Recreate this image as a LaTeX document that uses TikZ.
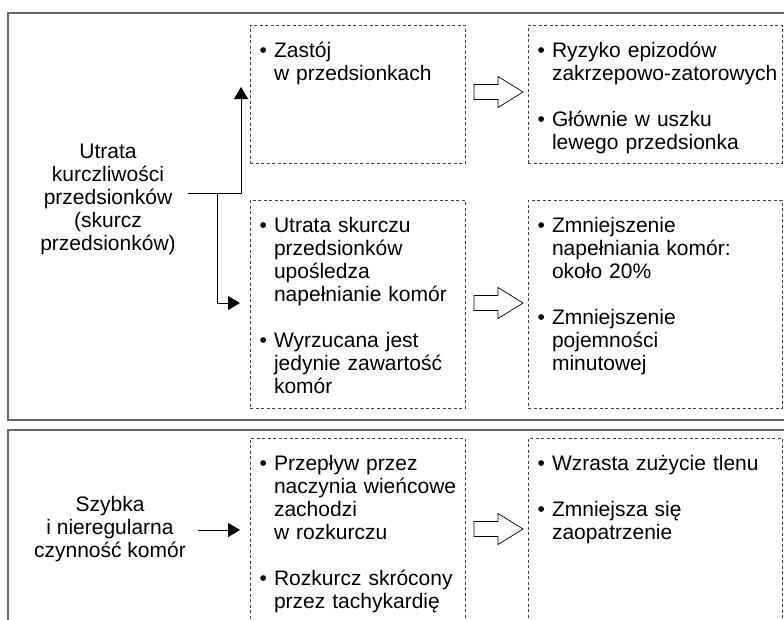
\documentclass[tikz,border=0pt]{standalone}
\usepackage{fontspec}
\setmainfont{Liberation Sans}
\usetikzlibrary{arrows.meta}
\newcommand{\pkt}{\textbullet\ }
\newcommand{\wc}{\phantom{\textbullet\ }}
\begin{document}
\begin{tikzpicture}
  [x=1pt,y=-1pt,every node/.style={font=\fontsize{21}{23}\selectfont,inner sep=0pt}]
  \tikzstyle{ramka} = [draw=black!75,line width=0.8pt,dash pattern=on 3pt off 2.5pt,anchor=north west]
  \tikzstyle{punkty} = [anchor=base west,align=left,text width=250pt]
  \tikzstyle{opis} = [align=center,inner xsep=12pt]
  \tikzstyle{obwod} = [draw=black!60,line width=1.5pt]
  \tikzstyle{strzalka} = [draw=black,line width=0.7pt,fill=white]
  \tikzstyle{polacz} = [-{Triangle[length=12pt,width=14pt]},line width=0.8pt]
  \clip (0,0) rectangle (784,619);
  \draw[obwod] (8,13) rectangle (800,420);
  \draw[obwod] (8,430) rectangle (800,700);
  \foreach \nazwa /\x /\y /\w /\h in {bA/250/25/215/138,bB/528/25/254/138,bC/250/200/215/208,
    bD/528/200/254/208,bE/250/438/215/300,bF/528/438/254/300}
   \node[ramka,minimum width=\w,minimum height=\h] (\nazwa) at (\x,\y) {};
  \node[opis] (utrata) at (108,199) {Utrata\\kurczliwości\\przedsionków\\(skurcz\\przedsionków)};
  \node[opis] (szybka) at (110,529) {Szybka\\i nieregularna\\czynność komór};
  \node[punkty] (tA) at (259.5,57) {\pkt Zastój\\\wc w przedsionkach};
  \node[punkty] (tB) at (537.5,57) {\pkt Ryzyko epizodów\\\wc zakrzepowo-zatorowych\\[23pt]
    \pkt Głównie w uszku\\\wc lewego przedsionka};
  \node[punkty] (tC) at (259.5,232) {\pkt Utrata skurczu\\\wc przedsionków\\\wc upośledza\\
    \wc napełnianie komór\\[23pt]\pkt Wyrzucana jest\\\wc jedynie zawartość\\\wc komór};
  \node[punkty] (tD) at (537.5,232) {\pkt Zmniejszenie\\\wc napełniania komór:\\\wc około 20\%\\[23pt]
    \pkt Zmniejszenie\\\wc pojemności\\\wc minutowej};
  \node[punkty] (tE) at (259.5,470) {\pkt Przepływ przez\\\wc naczynia wieńcowe\\\wc zachodzi\\
    \wc w rozkurczu\\[23pt]\pkt Rozkurcz skrócony\\\wc przez tachykardię};
  \node[punkty] (tF) at (537.5,470) {\pkt Wzrasta zużycie tlenu\\[23pt]\pkt Zmniejsza się\\\wc zaopatrzenie};
  % strzalki miedzy ramkami
  \foreach \y in {92,303,529}
   \draw[strzalka] (474,\y-7.5) -- (498,\y-7.5) -- (498,\y-15.5) -- (523,\y)
     -- (498,\y+15.5) -- (498,\y+7.5) -- (474,\y+7.5) -- cycle;
  \coordinate (rozw) at (217,193);
  \coordinate (gora) at (241,87);
  \coordinate (dol) at (240,303);
  \coordinate (celE) at (240,530);
  \draw[polacz] (utrata.east |- rozw) -| (gora);
  \draw[polacz] (rozw) |- (dol);
  \draw[polacz] (szybka.east |- celE) -- (celE);
\end{tikzpicture}
\end{document}
